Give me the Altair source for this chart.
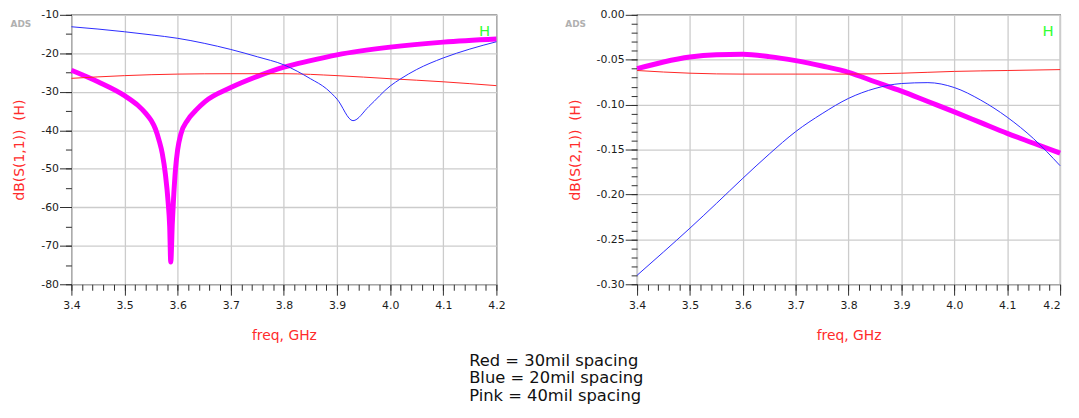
import altair as alt
import pandas as pd

# ---------------- data: left panel, dB(S(1,1)) ----------------
s11_red_f = [3.4, 3.5, 3.6, 3.7, 3.8, 3.9, 4.0, 4.1, 4.2]
s11_red_v = [-26.5, -25.8, -25.4, -25.3, -25.3, -25.8, -26.6, -27.4, -28.4]

s11_blue_f = [3.40, 3.45, 3.50, 3.55, 3.60, 3.65, 3.70, 3.75, 3.80, 3.85, 3.88,
              3.90, 3.93, 3.96, 4.00, 4.02, 4.05, 4.10, 4.15, 4.20]
s11_blue_v = [-13.1, -13.7, -14.4, -15.2, -16.1, -17.4, -19.0, -20.9, -23.0, -26.6, -29.2,
              -31.9, -37.5, -33.8, -28.5, -26.6, -24.2, -21.2, -18.9, -17.0]

s11_pink_f = [3.40, 3.45, 3.50, 3.525, 3.54, 3.55, 3.558, 3.565, 3.571, 3.577, 3.582,
              3.585, 3.587, 3.590, 3.592, 3.596, 3.600, 3.606, 3.619, 3.635, 3.651,
              3.70, 3.75, 3.80, 3.85, 3.90, 4.00, 4.10, 4.20]
s11_pink_v = [-24.4, -27.4, -31.0, -33.5, -35.6, -37.4, -39.6, -42.6, -46.0, -51.5, -58.5,
              -65.0, -74.2, -64.0, -58.5, -50.0, -45.0, -41.0, -37.3, -34.7, -32.6,
              -28.9, -26.0, -23.6, -21.9, -20.4, -18.4, -17.1, -16.3]

# ---------------- data: right panel, dB(S(2,1)) ----------------
s21_red_f = [3.4, 3.5, 3.6, 3.7, 3.8, 3.9, 4.0, 4.1, 4.2]
s21_red_v = [-0.062, -0.065, -0.066, -0.066, -0.066, -0.065, -0.063, -0.062, -0.061]

s21_blue_f = [3.40, 3.45, 3.50, 3.55, 3.60, 3.65, 3.70, 3.75, 3.80, 3.85, 3.90,
              3.95, 4.00, 4.05, 4.10, 4.15, 4.20]
s21_blue_v = [-0.290, -0.264, -0.2375, -0.210, -0.182, -0.155, -0.130, -0.110, -0.093,
              -0.082, -0.0765, -0.0755, -0.081, -0.095, -0.114, -0.138, -0.168]

s21_pink_f = [3.40, 3.45, 3.50, 3.55, 3.60, 3.65, 3.70, 3.75, 3.80, 3.85, 3.90,
              3.95, 4.00, 4.05, 4.10, 4.15, 4.20]
s21_pink_v = [-0.060, -0.0525, -0.047, -0.0445, -0.044, -0.0465, -0.051, -0.057, -0.064,
              -0.0745, -0.085, -0.0965, -0.108, -0.120, -0.132, -0.143, -0.154]

# ---------------- labels ----------------
x_major = [3.4, 3.5, 3.6, 3.7, 3.8, 3.9, 4.0, 4.1, 4.2]
x_title = "freq, GHz"
s11_title = "dB(S(1,1))\u00a0\u00a0(H)"
s21_title = "dB(S(2,1))\u00a0\u00a0(H)"
s11_major = [-80, -70, -60, -50, -40, -30, -20, -10]
s21_major = [-0.30, -0.25, -0.20, -0.15, -0.10, -0.05, 0.0]
legend_lines = ["Red = 30mil spacing", "Blue = 20mil spacing", "Pink = 40mil spacing"]
corner_tag = ["ADS"]
marker_tag = ["H"]

RED = "#ff2424"
BLUE = "#2b2bff"
PINK = "#ff00ff"
TXT = "#1c1c1c"
TITLE_RED = "#ff2b2b"
FONT = "DejaVu Sans"
TICK = "#2e2e2e"

x_minor = [round(3.4 + 0.02 * i, 2) for i in range(41)]


def make_df(f, v):
    return pd.DataFrame({"f": f, "v": v})


def panel(series, ydom, ymajor, yminor, yexpr, ytitle, w, h, ads_dx, extra=None,
          last_right=False):
    xs = alt.Scale(domain=[3.4, 4.2], nice=False, zero=False)
    ys = alt.Scale(domain=ydom, nice=False, zero=False)

    minor = alt.Chart(make_df(*series[0][0:2])).mark_line(opacity=0).encode(
        x=alt.X("f:Q", scale=xs, axis=alt.Axis(values=x_minor, labels=False, grid=False,
                                               domain=False, ticks=True, tickSize=6,
                                               tickWidth=1, orient="bottom",
                                               title=None, tickColor=TICK)),
        y=alt.Y("v:Q", scale=ys, axis=alt.Axis(values=yminor, labels=False, grid=False,
                                               domain=False, ticks=True, tickSize=6,
                                               tickWidth=1, orient="left",
                                               title=None, tickColor=TICK)),
    )

    x_align = "center"
    if last_right:
        x_align = {"condition": {"test": "datum.value > 4.19", "value": "right"},
                   "value": "center"}

    xa = alt.Axis(values=x_major, format=".1f", grid=True, ticks=True, tickSize=11,
                  tickWidth=1, orient="bottom", labelFlush=False, labelAlign=x_align,
                  title=x_title, titleColor=TITLE_RED, titleFontSize=14,
                  titleFontWeight="normal", titlePadding=19, labelPadding=4,
                  labelColor=TXT, labelFontSize=11, domain=False, tickColor=TICK,
                  gridColor="#cccccc", gridWidth=1.3)
    ya = alt.Axis(values=ymajor, labelExpr=yexpr, grid=True, ticks=True, tickSize=12,
                  tickWidth=1, orient="left", labelFlush=False,
                  title=ytitle, titleColor=TITLE_RED, titleFontSize=14,
                  titleFontWeight="normal", titlePadding=14, labelPadding=1,
                  labelColor=TXT, labelFontSize=11, domain=False, tickColor=TICK,
                  gridColor="#cccccc", gridWidth=1.3)

    layers = [minor]
    first = True
    for f, v, color, sw in series:
        enc_x = alt.X("f:Q", scale=xs, axis=xa if first else None)
        enc_y = alt.Y("v:Q", scale=ys, axis=ya if first else None)
        layers.append(alt.Chart(make_df(f, v)).mark_line(
            color=color, strokeWidth=sw, interpolate="monotone").encode(x=enc_x, y=enc_y))
        first = False

    layers.append(alt.Chart(pd.DataFrame({"t": marker_tag})).mark_text(
        font=FONT, fontSize=15, color="#33ff33", align="center", baseline="middle").encode(
        text="t:N", x=alt.value(w - 12), y=alt.value(16)))
    layers.append(alt.Chart(pd.DataFrame({"t": corner_tag})).mark_text(
        font=FONT, fontSize=9, fontWeight="bold", color="#b0b0b0", align="center",
        baseline="middle").encode(text="t:N", x=alt.value(ads_dx), y=alt.value(9)))
    if extra is not None:
        layers.append(extra)

    return alt.layer(*layers).resolve_axis(x="independent", y="independent").properties(
        width=w, height=h)


legend = alt.Chart(pd.DataFrame({"k": [0]})).mark_text(
    text=legend_lines, font=FONT, fontSize=16.5, lineHeight=18, color="#111111",
    align="left", baseline="alphabetic").encode(x=alt.value(401.5), y=alt.value(354))

left = panel(
    [(s11_pink_f, s11_pink_v, PINK, 5), (s11_red_f, s11_red_v, RED, 1),
     (s11_blue_f, s11_blue_v, BLUE, 1)],
    [-80, -10], s11_major, [-80 + 5 * i for i in range(15)],
    "datum.value < 0 ? '-' + format(-datum.value, 'd') : format(datum.value, 'd')",
    s11_title, 429, 272, -51, extra=legend)

right = panel(
    [(s21_pink_f, s21_pink_v, PINK, 5), (s21_red_f, s21_red_v, RED, 1),
     (s21_blue_f, s21_blue_v, BLUE, 1)],
    [-0.30, 0.0], s21_major, [round(-0.30 + 0.01 * i, 2) for i in range(31)],
    "datum.value < 0 ? '-' + format(-datum.value, '.2f') : format(datum.value, '.2f')",
    s21_title, 427, 272, -62, last_right=True)

chart = alt.hconcat(left, right, spacing=142, bounds="flush").properties(
    padding={"left": 1, "top": -2, "right": 0, "bottom": 0}
).configure(font=FONT).configure_axis(
    labelFont=FONT, titleFont=FONT
).configure_view(stroke="#3a3a3a", strokeWidth=1.2)

chart.save("out.html", embed_options={"renderer": "svg", "actions": False})
